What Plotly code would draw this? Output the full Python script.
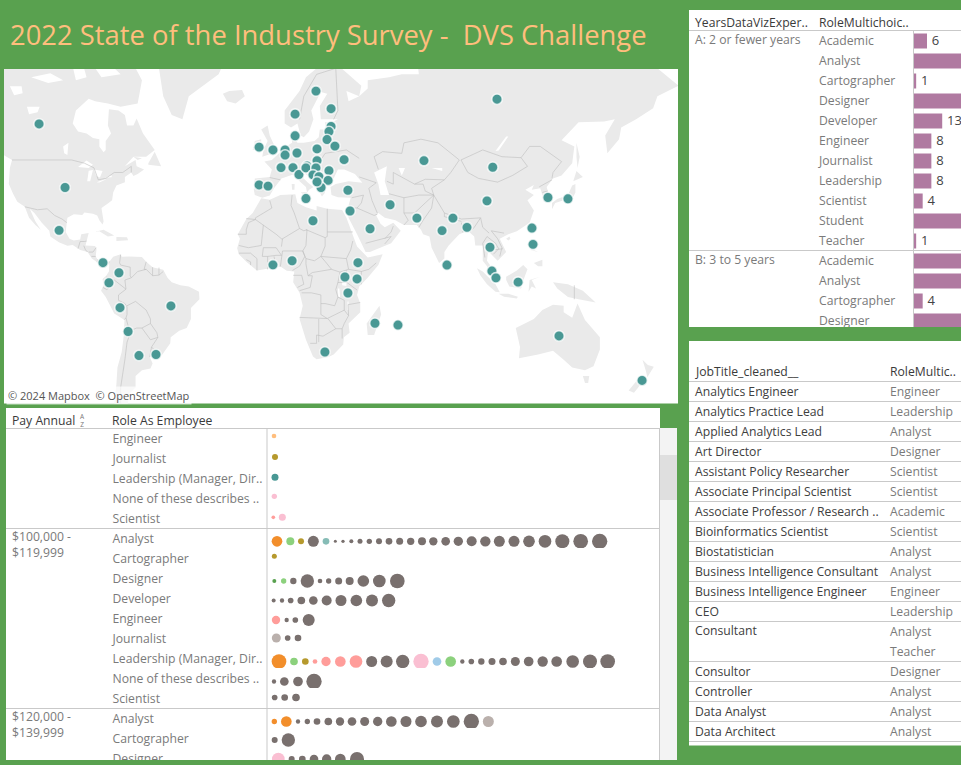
import numpy as np
import plotly.graph_objects as go

W, H = 961, 765
GREEN = "#59A14F"
FONT = "Open Sans"
DARK = "#3A3A3A"
GREY = "#7A7A7A"
LINE = "#C9C9C9"

# ---------- data: survey map ----------
resp_lon = [-110.3,-98.1,-100.9,-80.3,-72.8,-77.5,-72.3,-48.4,-68.5,-63.4,-55.4,-0.5,8.5,18.3,15,23.9,-7,-2.8,3.3,8.9,11.7,-7,-0.5,5.2,5.2,10.8,9.9,9.9,19.7,26.8,26.8,25.8,24.9,28.6,20.2,20.2,15.5,15,19.7,18.3,21.1,25.8,25.4,22.1,20.2,32.9,104.7,70.4,102.7,100,34.7,35.7,54.5,45.1,67.1,84,90.6,78.9,81.2,39.4,33.3,39,34.7,47.4,58.2,128.6,138,121.1,121.6,101.4,102.3,104.2,114.6,133.8,172.8]
resp_lat = [58.9,39.8,22.7,8.1,3.4,-1.3,-12.9,-12.1,-23.5,-33.4,-33,7.1,9,26.8,35.7,-32,40.7,40.3,46.6,46.6,44.3,52.8,52,52,50.5,51.1,55.9,61.2,66,62.4,58.3,57,54.9,53.1,52.3,48.8,47.1,46.5,46.5,44.2,43.6,45.6,42.3,39.8,41.8,49.1,64.4,48.8,46.7,34.8,38.8,30.8,33.3,23.4,27.9,27.9,24,22.6,7,8.1,1.4,0.5,-6.1,-19.9,-20.7,36.1,35.6,23.7,16.5,15.2,4.2,1,-1,-25.4,-42.6]

land = [
 [(-130,73),(-100,73),(-90,73),(-70,73),(-62,68),(-64,63.5),(-72,62.8),(-78,63.5),(-84,64),(-87,64.5),(-93,62),(-94.5,59),(-92,57),(-88,56.5),(-85,55.3),(-82,55),(-82,53),(-80,51.3),(-79,52),(-79,54.5),(-76.5,56.5),(-78,58.5),(-77.5,62.3),(-73,62),(-70,61),(-69,58.5),(-66,58.5),(-64.5,60.2),(-61.5,56.5),(-57,53),(-56,52),(-60,50),(-66,50),(-70,47),(-65,49),(-64.5,47),(-61,46),(-64,44.5),(-66,43.8),(-67,45),(-70,43.5),(-70,41.7),(-74,40.5),(-75.5,38),(-76,35),(-78,33.8),(-81,32),(-80,26.5),(-80.5,25.2),(-82,27),(-83,29),(-85,29.7),(-89,30.2),(-90,29.2),(-94,29.5),(-97,28),(-97.5,25),(-97.8,22),(-96,19),(-94,18.2),(-91,18.7),(-90.5,21),(-87,21.5),(-88,17.5),(-88.5,16),(-84,15.8),(-83.3,14.5),(-83.7,11),(-82.5,9),(-79.5,9.5),(-77.3,8.5),(-78,7.5),(-80,7.3),(-81.5,7.8),(-83,8.3),(-85.5,10),(-87.5,13),(-91,14),(-94.5,16.2),(-97,15.9),(-101,17.5),(-105,20),(-105.5,22.5),(-109,26),(-112.5,30),(-114.7,31.7),(-112,26.5),(-109.5,23),(-112,25),(-115,28),(-117,32.5),(-120.5,34.5),(-122.5,37.5),(-124.5,41),(-124,46.5),(-123,49),(-127,50.5),(-130,54),(-135,58),(-140,60),(-150,60),(-160,58),(-165,62),(-168,66),(-160,70),(-150,71),(-140,70)],
 [(-59,48),(-56,51.5),(-53,47),(-59,47.5)],
 [(-66,50),(-62,49.5),(-64,49)],
 [(-73,78),(-60,76),(-54,70),(-52,65),(-48,61),(-43,60),(-40,65),(-26,69),(-22,72),(-20,78)],
 [(-24,65.5),(-21,66),(-15,66.2),(-13.7,65),(-18,63.5),(-22,64)],
 [(-84.5,22),(-80,23),(-75,20.5),(-78,20),(-82,22.3)],
 [(-74,19.8),(-69,19.7),(-68.5,18.3),(-74,18)],
 [(-77.3,8.5),(-75.5,10.8),(-72,12),(-71.5,10.8),(-68,11),(-62,10.7),(-60,8.5),(-57,6),(-52,4.8),(-50,1),(-48,-1),(-44,-2.5),(-40,-3),(-35.2,-5.5),(-35,-9),(-39,-13),(-39,-18),(-41,-22),(-44.5,-23.2),(-48.5,-26),(-48.7,-28.5),(-52,-32.5),(-54,-34.8),(-58.3,-34),(-57,-36.5),(-58,-38.3),(-62,-39),(-65,-41),(-65,-45),(-68,-47),(-69,-52),(-65,-55),(-71,-54),(-75,-50),(-74,-44),(-73.5,-38),(-71.5,-32),(-70.5,-25),(-70.2,-18.5),(-75,-15.5),(-79,-8),(-81.2,-5),(-80,-2.5),(-80.5,0.5),(-78.8,2),(-77.5,4),(-77.5,7)],
 [(-6,35.8),(-2,35.2),(3,37),(10,37.3),(11,34),(15,32.3),(20,31),(20,32.8),(25,31.7),(32,31.2),(34,28),(37,21),(39,15.5),(43,11.5),(44,10.5),(51,12),(49,7),(44,1),(40,-3),(39,-7),(40.5,-11),(40.5,-15),(35,-20),(35.5,-24),(32.8,-26),(32.5,-29),(28,-33),(25.5,-34),(20,-34.8),(18.3,-33.8),(15,-27),(12,-18),(13.5,-12),(12,-6),(9,-1),(9.5,4),(6,4.3),(3,6.3),(-4,5.2),(-8,4.4),(-13,8.5),(-16.5,12),(-17.3,14.7),(-16,19),(-17,21),(-13,27.5),(-10,30)],
 [(-9,37),(-9.5,39),(-9,43),(-2,43.5),(-1,46),(-4.5,48.5),(-1,49),(2,51),(4,52),(7,53.5),(8.5,54),(8,57),(10.5,57.5),(10,55),(11,54),(14,54),(19,54.5),(21,55.5),(21.5,57.5),(24,57.5),(24,59.3),(28,59.5),(30,60),(25,60),(22,60),(21.5,63),(25,65.5),(22,65.8),(17.5,62),(18.5,60),(16.5,57),(14,55.5),(12.5,56),(11,59),(8,58),(5,59),(5,62),(12,66),(15,68.5),(20,70),(25,71),(30,70.5),(41,67),(40,65),(34,66),(35,64),(40,65),(44,66.5),(44,68),(54,68.5),(60,69),(68,69),(67,72),(72,73),(75,72),(80,74),(100,77),(113,74),(130,73.5),(150,73),(160,71.5),(170,71),(180,70),(190,67),(180,65),(178,62.5),(170,60),(163,58),(162,55),(156.5,51),(155.5,56),(160,60),(155,59.5),(143,59.3),(135,54.7),(141,53),(140,48),(135,44),(131,43),(128,40),(129.5,36),(126.5,34.5),(126,37),(125,39.5),(121,39),(122,40.7),(118,39),(122,37),(119,35),(122,31),(120,26),(114,22.3),(110,21),(106,19),(109,13),(105,9),(103,11),(100.5,13.5),(100,9),(103.5,4),(104,1.3),(101,3),(100,6.5),(98,9),(98,16),(94.5,16),(94,20),(91,22.5),(87,21),(82,16),(80,13),(80,10),(77.5,8),(74,15),(73,20),(70,21),(69,23),(67,25),(61,25),(57,27),(52,28),(49,30),(48,29),(50,25.5),(52,24),(56,26),(59.5,22.5),(55,17),(45,13),(43,13),(39,21),(35,28),(34.5,31.5),(36,36),(30,36.2),(27,37),(26.5,40),(29,41),(35,42),(41.5,41.5),(38,44.5),(33,46),(30,46),(28,43),(26,40.8),(23,40.5),(24,38),(22.5,36.5),(19.5,41),(19,42),(14,45),(12.5,44),(16,41.5),(18.5,40),(16.5,39),(15.5,38),(15,40),(12,42),(9,44.3),(3.5,43),(0,39.5),(-2,36.8),(-5.5,36)],
 [(-5.5,50),(1.5,51.5),(0,53.5),(-2,56),(-3,58.5),(-6,57.5),(-3,54.5),(-5,52)],
 [(-10,52),(-6,52),(-6,55),(-9,54.5)],
 [(130.5,31.5),(132,34),(136,35),(140,35.5),(141.5,38),(141.5,41),(140,40.5),(138,37),(133,35.5),(130.5,34)],
 [(140.5,42),(145,43.5),(142,45.5),(141,43.5)],
 [(142,54),(143.5,50),(142.5,46.5),(142,50)],
 [(120.3,23),(121,25),(122,25),(121,22)],
 [(109,19),(110.5,20),(111,19),(110,18.2)],
 [(80,9.5),(82,7.5),(80.5,6),(79.8,8)],
 [(95.3,5.5),(98,4),(104,-2),(106,-5.8),(104,-5.5),(100,-2),(97,2)],
 [(105.5,-6.5),(110,-6.5),(114.5,-7.8),(114,-8.7),(108,-7.8)],
 [(109,1.5),(114,4.5),(117,7),(119,5),(117.5,1),(116,-4),(110.5,-3),(109,0)],
 [(119.5,-5.5),(120,0),(125,1.5),(121,0),(123,-4),(121,-3)],
 [(131,-1),(138,-2),(145,-5),(151,-10.5),(143,-9),(138,-8),(133,-4)],
 [(120.5,18.5),(122.3,18.3),(122,14),(124,13),(120.5,14)],
 [(122,8),(126,9.5),(126,6.5),(124,6.5)],
 [(44,-25),(43.5,-20),(49.5,-12),(50.3,-16),(47,-25)],
 [(113.5,-22),(122,-18),(126,-14),(131,-11.5),(136,-12),(136,-15),(140,-17.5),(142.5,-11),(146,-18.5),(153,-26),(153,-31),(150,-37.5),(146,-39),(140,-38),(136,-35),(131,-31.5),(124,-33),(115,-34.5),(115.5,-30)],
 [(145,-41),(148,-41),(147.5,-43.5),(146,-43.5)],
 [(173,-35),(175.5,-37),(178.3,-37.7),(175.3,-41.5),(174.5,-39)],
 [(172.5,-40.7),(174,-41.7),(171,-45),(169,-46.7),(166.5,-46)],
 [(52,71),(56,74),(68,77),(60,74),(57,71)],
 [(12.5,38),(15.5,38.2),(15,36.7)],
 [(8.3,41),(9.7,41),(9.6,39),(8.5,39)],
]
lakes = [
 [(-92,46.8),(-88,48.8),(-85,47.5),(-87,46.5)],
 [(-87.7,42),(-86.3,42),(-85,45.8),(-87,45.6)],
 [(-84.5,46),(-80.5,45.5),(-81.7,43.3),(-83.5,43.8)],
 [(-83.3,41.7),(-79,42.8),(-79,42.6),(-82,41.6)],
 [(-79.5,43.3),(-76.2,44),(-76.2,43.4)],
 [(-99,53),(-96.5,54),(-97,50.5),(-98.5,51)],
 [(-116,62.8),(-110,62.8),(-111,61.6),(-115,61.2)],
 [(-124,66.9),(-118.5,66.9),(-118,65.6),(-122,65.2)],
 [(-114,68.5),(-105,69.2),(-99,68),(-106,67.5)],
 [(-95,71),(-90,71),(-88,68.5),(-93,68)],
 [(-127,71.5),(-118,71),(-112,70),(-122,70)],
 [(-110,71.5),(-100,71),(-104,70.3)],
 [(-86,71),(-78,71),(-72,69),(-81,68.5)],
 [(47,45),(53,47),(52,42),(54,37),(50,37),(49,41)],
 [(58.5,46.5),(61.5,46.5),(60,44)],
 [(104,51.7),(105.5,51.8),(110,55.7),(109,55.7)],
 [(74,46.5),(79,46.5),(79,45.5)],
 [(32,0),(34,0),(34,-2.8),(32,-2.5)],
 [(30,-4),(30.7,-4),(31,-8),(30.2,-8)],
 [(34.5,-10),(35,-10),(35,-14),(34.5,-14)],
]
borders = [
 [(-123,49),(-95,49),(-89,48),(-84.5,46.5),(-82.5,42.5),(-79,43),(-75,45),(-71,45),(-67,47),(-67,45)],
 [(-117,32.5),(-111,31.3),(-106.5,31.7),(-103,29),(-99.5,27.5),(-97.3,26)],
 [(-92,14.6),(-91,17.8),(-89,17.8),(-88,18)],[(-89.3,15.9),(-88.5,14),(-87.5,13)],[(-83.5,15),(-85,13),(-87,13)],[(-85.7,11),(-83.7,11)],[(-83,8.3),(-82.8,9.6)],[(-77.3,8.6),(-77.8,7.3)],
 [(-72,11.8),(-72.5,8),(-72,7),(-67.5,6),(-67.5,2),(-67,1)],[(-67,1),(-70,0),(-69.5,-4.3)],[(-69.5,-4.3),(-75,0),(-78.8,1.4)],[(-75,0),(-75.5,-2),(-78.5,-4.5),(-80.3,-3.5)],[(-69.5,-4.3),(-73,-7),(-73,-9.5),(-70,-11),(-69,-12.5)],[(-69,-12.5),(-69,-16),(-69.5,-17.5),(-70.3,-18.3)],[(-69.5,-17.5),(-68.5,-21),(-67,-23)],[(-69,-12),(-65,-10),(-60,-14),(-58,-18),(-58,-20)],[(-58,-20),(-62,-22),(-64.5,-22),(-67,-23)],[(-67,-23),(-69,-28),(-70,-35),(-72,-45),(-72,-52)],[(-58,-20),(-55,-24),(-54.5,-26)],[(-62,-22),(-58,-27),(-54.5,-26)],[(-54.5,-26),(-57.5,-30),(-58.3,-34)],[(-57.5,-30),(-53.5,-33.5)],[(-60,8.5),(-61,5),(-60,5)],[(-60,5),(-57,2),(-54,2.3),(-52,4)],[(-57,6),(-57,2)],[(-54,5.8),(-54,2.3)],[(-60,5),(-64,4),(-67,1)],
 [(-2,35),(-1,32),(-8.7,28),(-8.7,27.3),(-13,27.7)],[(-8.7,27.3),(-5,25),(1,21),(3.5,19),(4,19)],[(-17,21),(-13,21),(-13,23),(-12,26),(-8.7,27.3)],[(-5,25),(-6,16),(-12,15),(-16.5,16)],[(3.5,15.5),(4,19),(12,23.5),(14,22.5),(15.5,23)],[(8.5,37),(8,33),(9.5,30)],[(9.5,30),(12,23.5)],[(25,31.7),(25,22)],[(25,22),(37,22)],[(15,23),(24,19.5),(24,15.7)],[(24,19.5),(25,20),(25,22)],[(15.5,23),(15,16),(13.5,13.5)],[(3,6.3),(3.5,11.5),(4,13.5),(13.5,13.5),(14.5,11),(12,6.5),(8.7,4.5)],[(24,15.7),(22,11),(24,8.7)],[(15,10),(19,9),(22,11)],[(13.5,13.5),(15,10),(15,7.5),(16,2)],[(16,2),(18,3.5),(27,5)],[(24,8.7),(27,5),(31,3.7),(35,5),(34,10),(36,14),(37,18)],[(22,11),(34,10)],[(48,8),(44.5,5),(41,4)],[(35,5),(41,4),(41,-2)],[(34,-1),(39,-4.7)],[(31,3.7),(30,0),(30,-1.2),(34,-1),(34,4.5)],[(30,-1.2),(29,-4.5),(30,-8),(28.5,-12),(24,-11),(22,-11),(22,-7),(17.5,-6),(13,-6)],[(12,-5),(17,-3.5),(18,2),(16,2)],[(9,2.2),(13,2.2),(14,-2),(11,-3.5)],[(12,-17.3),(23,-18),(25,-17.8)],[(21,-18),(21,-28)],[(17,-28.5),(20,-28.5),(20,-25),(23,-25.5),(29,-22.3),(32,-22.3),(32,-26.5)],[(25.3,-17.8),(29,-22.3)],[(22,-11),(22,-16),(25,-17.8),(30,-15.5),(33,-14),(33,-9.5),(30,-8)],[(34.8,-11.5),(40.5,-10.5)],[(33,-14),(35,-16.5),(33,-20),(32,-22.3)],[(34.8,-11.5),(35,-16.5)],[(-16.5,12.5),(-11,12.5),(-8,10),(-8,4.5)],[(-13,9.5),(-11,8.5),(-11,7)],[(-3,5),(-3,11)],[(1,6),(0,11)],[(-5.5,11),(-3,11),(1,11.5),(3.5,11.5),(1,15),(-5,15),(-5.5,11)],
 [(49,46),(47,50),(51,51.5),(60,51),(61,54),(69,55),(77,54),(87,49),(83,45),(80,42.5),(71,42.7),(66,41),(56,45),(56,41),(53,42)],[(87.8,49),(98,52),(107,50),(116,49.7)],[(87.8,49),(91,45),(96,43),(105,41.7),(112,44),(119,47),(116,49.7)],[(116,49.7),(120,53),(125,53),(135,48.5),(131,45),(130.5,43)],[(80,42.5),(74,39.5),(75,37)],[(66,41),(70,41),(71,38.5),(75,37),(68,37),(61,36),(54,37.5)],[(61,36),(61,30),(63,27),(61,25)],[(61,30),(66,30),(71,34),(75,37)],[(75,37),(74,32),(70,27),(68,24)],[(75,37),(80,30),(88,27.5),(97,28)],[(80,30),(80,28.5),(88,26.5)],[(88,26),(88.5,22),(92,23),(92,25),(89,25.7)],[(92,22),(94,24),(97,28)],[(97,28),(98,24),(101,21.5)],[(100,20),(98,17),(99,10.5)],[(102,22.5),(105,19),(107,15),(106,11)],[(100,20),(104,17),(105.5,14.5),(103,12)],[(103,14),(107.5,14.5)],[(102,22.5),(108,21.5)],[(124.5,40),(130.5,42.5)],[(126,38),(128.5,38.5)],[(44.5,39.5),(46,35),(48.5,30)],[(36.5,36),(42,37)],[(42,37),(41,34),(39,32)],[(39,32),(47,29),(48.5,29.5)],[(35,29.5),(37,32),(39,32)],[(43,17),(52,19),(55,20),(52,16.7)],[(52,19),(55,22),(56,24.5)],[(40,43.5),(48,41.5),(44.5,39.5)],[(141,-2.5),(141,-9)],[(12,60),(14,65),(20,69),(29,70)],[(29,70),(30,62),(28,60)],[(40,49.5),(34,52),(24,51),(22,49)],[(-2,43.3),(3,42.5)],
]

# ---------- data: experience / role bars ----------
exp_groups = ["A: 2 or fewer years", "B: 3 to 5 years"]
role_labels = ["Academic","Analyst","Cartographer","Designer","Developer","Engineer","Journalist","Leadership","Scientist","Student","Teacher","Academic","Analyst","Cartographer","Designer"]
role_counts = [6,32,1,28,13,8,8,8,4,30,1,24,40,4,26]

# ---------- data: pay / role dots ----------
pay_groups = ["$100,000 -<br>$119,999", "$120,000 -<br>$139,999"]
pay_roles = ["Engineer","Journalist","Leadership (Manager, Dir..","None of these describes ..","Scientist","Analyst","Cartographer","Designer","Developer","Engineer","Journalist","Leadership (Manager, Dir..","None of these describes ..","Scientist","Analyst","Cartographer","Designer"]
PAL = dict(o="#F28E2B", O="#FFBE7D", g="#59A14F", G="#8CD17D", y="#B6992D", t="#499894", T="#86BCB6", s="#FF9D9A", p="#FABFD2", b="#79706E", B="#BAB0AC", l="#A0CBE8")
row_centre = [436,457,477.3,496.3,517.3,541.3,556.3,581,600.5,620,638,661.5,681.5,697.5,721.5,740,759]
dot_pos = [
 [42],[45],[45],[43],[40,67],
 [51,91,123,160,198,226,249,274,300,328,357,387,419,452,486,520,557,595,635,676,718,762,807,855,907,962,1019],
 [43],
 [43,71,100,142,180,206,236,269,310,358,412],
 [41,66,92,124,160,200,243,289,336,386],
 [48,80,106,146],
 [49,83,114],
 [57,102,136,165,198,241,288,335,380,428,483,531,572,607,634,664,696,729,766,806,848,890,938,990,1043],
 [42,73,114,162],
 [44,74,108],
 [43,79,114,142,171,205,240,276,314,353,394,438,483,531,580,634,685],
 [44,85],
 [55,95,127,162,200,241,291],
]
dot_val = [
 [14],[18],[21],[16],[11,21],
 [32,24,18,33,20,9,10,12,15,16,18,20,21,22,24,25,26,28,30,31,33,33,35,38,42,44,46],
 [15],
 [12,16,19,40,14,16,21,24,35,38,44],
 [12,13,17,23,26,30,33,35,36,40],
 [25,13,17,36],
 [27,17,20],
 [44,23,20,14,28,32,38,33,36,40,46,26,32,13,17,19,21,23,27,29,31,32,38,42,44],
 [13,26,29,46],
 [17,20,23],
 [16,32,13,16,20,23,25,26,27,28,32,33,35,36,38,46,33],
 [18,40],
 [38,18,20,26,28,32,42],
]
dot_col = ["O","y","t","p","sp",
 "oGybT"+"b"*22,"y","gGb"+"b"*8,"b"*10,"sbbb","Bbb",
 "oGys"+"sss"+"bbb"+"plG"+"b"*12,"bbbb","bbb","oo"+"b"*14+"B","bb","p"+"b"*6]

# ---------- data: job titles ----------
job_titles = ["Analytics Engineer","Analytics Practice Lead","Applied Analytics Lead","Art Director","Assistant Policy Researcher","Associate Principal Scientist","Associate Professor / Research ..","Bioinformatics Scientist","Biostatistician","Business Intelligence Consultant","Business Intelligence Engineer","CEO","Consultant","","Consultor","Controller","Data Analyst","Data Architect"]
job_roles = ["Engineer","Leadership","Analyst","Designer","Scientist","Scientist","Academic","Scientist","Analyst","Analyst","Engineer","Leadership","Analyst","Teacher","Designer","Analyst","Analyst","Analyst"]


def dx(a, b): return [a / W, b / W]
def dy(top, bottom): return [1 - bottom / H, 1 - top / H]
def merc(lat): return np.log(np.tan(np.pi / 4 + np.radians(lat) / 2))
def path(polys, closed=True):
    xs, ys = [], []
    for p in polys:
        q = p + p[:1] if closed else p
        xs += [c[0] for c in q] + [None]
        ys += [float(merc(c[1])) for c in q] + [None]
    return xs, ys

fig = go.Figure()
PX, PY = 2.13, 122.0
BAR_SCALE = 2.17
ax = dict(visible=False, fixedrange=True)
layout = dict(
    xaxis=dict(ax, domain=dx(4, 678), range=[(4 - 274) / PX, (678 - 274) / PX]),
    yaxis=dict(ax, domain=dy(69, 403.5), range=[(280 - 403.5) / PY, (280 - 69) / PY]),
    xaxis2=dict(ax, domain=dx(914, 961), range=[0, 47 / BAR_SCALE]),
    yaxis2=dict(ax, domain=dy(31, 327), range=[14.3, -0.5]),
    xaxis3=dict(ax, domain=dx(689, 914), range=[689, 914]),
    yaxis3=dict(ax, domain=dy(31, 327), range=[14.3, -0.5]),
    xaxis4=dict(ax, domain=dx(6, 267), range=[6, 267]),
    yaxis4=dict(ax, domain=dy(429, 760), range=[760, 429]),
    xaxis5=dict(ax, domain=dx(267.5, 659), range=[22.5, 1197]),
    yaxis5=dict(ax, domain=dy(429, 760), range=[760, 429]),
    xaxis6=dict(ax, domain=dx(689, 961), range=[689, 961]),
    yaxis6=dict(ax, domain=dy(382, 742), range=[17.5, -0.5]),
)

# map
lx, ly = path(land)
fig.add_trace(go.Scatter(x=lx, y=ly, mode="lines", fill="toself", fillcolor="#EAEAEA", line=dict(width=0), hoverinfo="skip", xaxis="x", yaxis="y"))
lx, ly = path(lakes)
fig.add_trace(go.Scatter(x=lx, y=ly, mode="lines", fill="toself", fillcolor="#FFFFFF", line=dict(width=0), hoverinfo="skip", xaxis="x", yaxis="y"))
lx, ly = path(borders, closed=False)
fig.add_trace(go.Scatter(x=lx, y=ly, mode="lines", line=dict(width=0.6, color="#BDBDBD"), hoverinfo="skip", xaxis="x", yaxis="y"))
fig.add_trace(go.Scatter(x=resp_lon, y=merc(np.array(resp_lat)), mode="markers",
    marker=dict(size=10.5, color="#499894", opacity=1, line=dict(width=1.6, color="rgba(255,255,255,0.75)")), xaxis="x", yaxis="y"))

# bars
rows = list(range(len(role_labels)))
fig.add_trace(go.Bar(x=role_counts, y=rows, orientation="h", width=0.75, marker=dict(color="#B07AA1", line=dict(width=0)),
    cliponaxis=True, xaxis="x2", yaxis="y2"))
shown = [i for i, v in enumerate(role_counts) if v * BAR_SCALE < 47]
fig.add_trace(go.Scatter(x=[role_counts[i] + 2.2 for i in shown], y=[rows[i] + 0.06 for i in shown], mode="text",
    text=[str(role_counts[i]) for i in shown], textposition="middle right",
    textfont=dict(family=FONT, size=13, color="#444"), cliponaxis=True, xaxis="x2", yaxis="y2"))
fig.add_trace(go.Scatter(x=[819] * len(rows), y=[r + 0.06 for r in rows], mode="text", text=role_labels, textposition="middle right",
    textfont=dict(family=FONT, size=12.2, color=GREY), xaxis="x3", yaxis="y3", cliponaxis=True))
fig.add_trace(go.Scatter(x=[695, 695], y=[0.0, 11.0], mode="text", text=exp_groups, textposition="middle right",
    textfont=dict(family=FONT, size=12.2, color=GREY), xaxis="x3", yaxis="y3"))

# pay table labels
label_y = [440 + 20 * i for i in range(5)] + [540 + 20 * i for i in range(9)] + [720 + 20 * i for i in range(3)]
fig.add_trace(go.Scatter(x=[112.5] * len(pay_roles), y=label_y, mode="text", text=pay_roles, textposition="middle right",
    textfont=dict(family=FONT, size=12.2, color=GREY), xaxis="x4", yaxis="y4"))
fig.add_trace(go.Scatter(x=[12, 12], y=[546, 726], mode="text", text=pay_groups, textposition="middle right",
    textfont=dict(family=FONT, size=12.2, color=GREY), xaxis="x4", yaxis="y4"))

# dots
for yy, xs, vals, cols in zip(row_centre, dot_pos, dot_val, dot_col):
    fig.add_trace(go.Scatter(x=xs, y=[yy] * len(xs), mode="markers",
        marker=dict(size=vals, sizemode="diameter", sizeref=3, opacity=1, color=[PAL[c] for c in cols], line=dict(width=0)),
        xaxis="x5", yaxis="y5"))

# job table
jr = list(range(len(job_titles)))
jt_y = [r + 0.05 if t != "Consultant" else r for r, t in zip(jr, job_titles)]
fig.add_trace(go.Scatter(x=[695] * len(jr), y=jt_y, mode="text", text=job_titles, textposition="middle right",
    textfont=dict(family=FONT, size=12.2, color="#404040"), xaxis="x6", yaxis="y6"))
fig.add_trace(go.Scatter(x=[890] * len(jr), y=[r + 0.05 for r in jr], mode="text", text=job_roles, textposition="middle right",
    textfont=dict(family=FONT, size=12.2, color=GREY), xaxis="x6", yaxis="y6"))

def rect(x0, y0, x1, y1, color, layer="below"):
    return dict(type="rect", xref="paper", yref="paper", x0=x0 / W, x1=x1 / W, y0=1 - y0 / H, y1=1 - y1 / H,
                fillcolor=color, line=dict(width=0), layer=layer)
def hl(x0, x1, y, color=LINE):
    return dict(type="line", xref="paper", yref="paper", x0=x0 / W, x1=x1 / W, y0=1 - y / H, y1=1 - y / H, line=dict(color=color, width=1), layer="below")
def vl(x, y0, y1, color=LINE):
    return dict(type="line", xref="paper", yref="paper", x0=x / W, x1=x / W, y0=1 - y0 / H, y1=1 - y1 / H, line=dict(color=color, width=1), layer="below")

shapes = [
    rect(4, 69, 678, 403.5, "white"),
    rect(689, 10, 961, 327, "white"),
    rect(689, 341, 961, 745.5, "white"),
    rect(6, 408, 660, 760, "white"),
    rect(660, 428, 677, 760, "#F3F3F3"),
    rect(660, 455, 677, 500, "#DFDFDF"),
    hl(689, 961, 30.5), hl(689, 961, 250.5), vl(913.5, 30, 327),
    hl(6, 660, 428.5), hl(6, 660, 528.5), hl(6, 660, 708.5), vl(267, 428, 760), vl(659.5, 428, 760),
    hl(689, 961, 381.5),
]
for r, t in enumerate(job_titles):
    if t != "Consultant":
        shapes.append(hl(689, 961, 401.5 + 20 * r))
for yb in [548, 668, 688, 728]:
    shapes.append(rect(268, yb, 659, yb + 3, "white", "above"))

def note(x, y, s, size=12.2, color=DARK, **kw):
    return dict(xref="paper", yref="paper", x=(x - 2) / W, y=1 - y / H, text=s, showarrow=False, xanchor="left", yanchor="middle",
                font=dict(family=FONT, size=size, color=color), **kw)

annotations = [
    note(10, 35, "2022 State of the Industry Survey -  DVS Challenge", size=27.4, color="#FFBE7D"),
    note(695, 22, "YearsDataVizExper..", color=DARK),
    note(819, 22, "RoleMultichoic..", color=DARK),
    note(12, 420, "Pay Annual", color=DARK),
    note(79.5, 420, "A<br>Z", size=6.5, color="#777"),
    note(112, 420, "Role As Employee", color=DARK),
    note(695, 371, "JobTitle_cleaned__", color=DARK),
    note(890, 371, "RoleMultic..", color=DARK),
    note(8, 395, "© 2024 Mapbox  © OpenStreetMap", size=11, color="#555555", bgcolor="rgba(255,255,255,0.7)"),
]

fig.update_layout(width=W, height=H, margin=dict(l=0, r=0, t=0, b=0), paper_bgcolor=GREEN, plot_bgcolor="rgba(0,0,0,0)",
    showlegend=False, barmode="overlay", shapes=shapes, annotations=annotations, hovermode=False, **layout)
fig.write_html("out.html", config=dict(displayModeBar=False),
    post_script="document.body.style.margin='0';document.body.style.overflow='hidden';")
